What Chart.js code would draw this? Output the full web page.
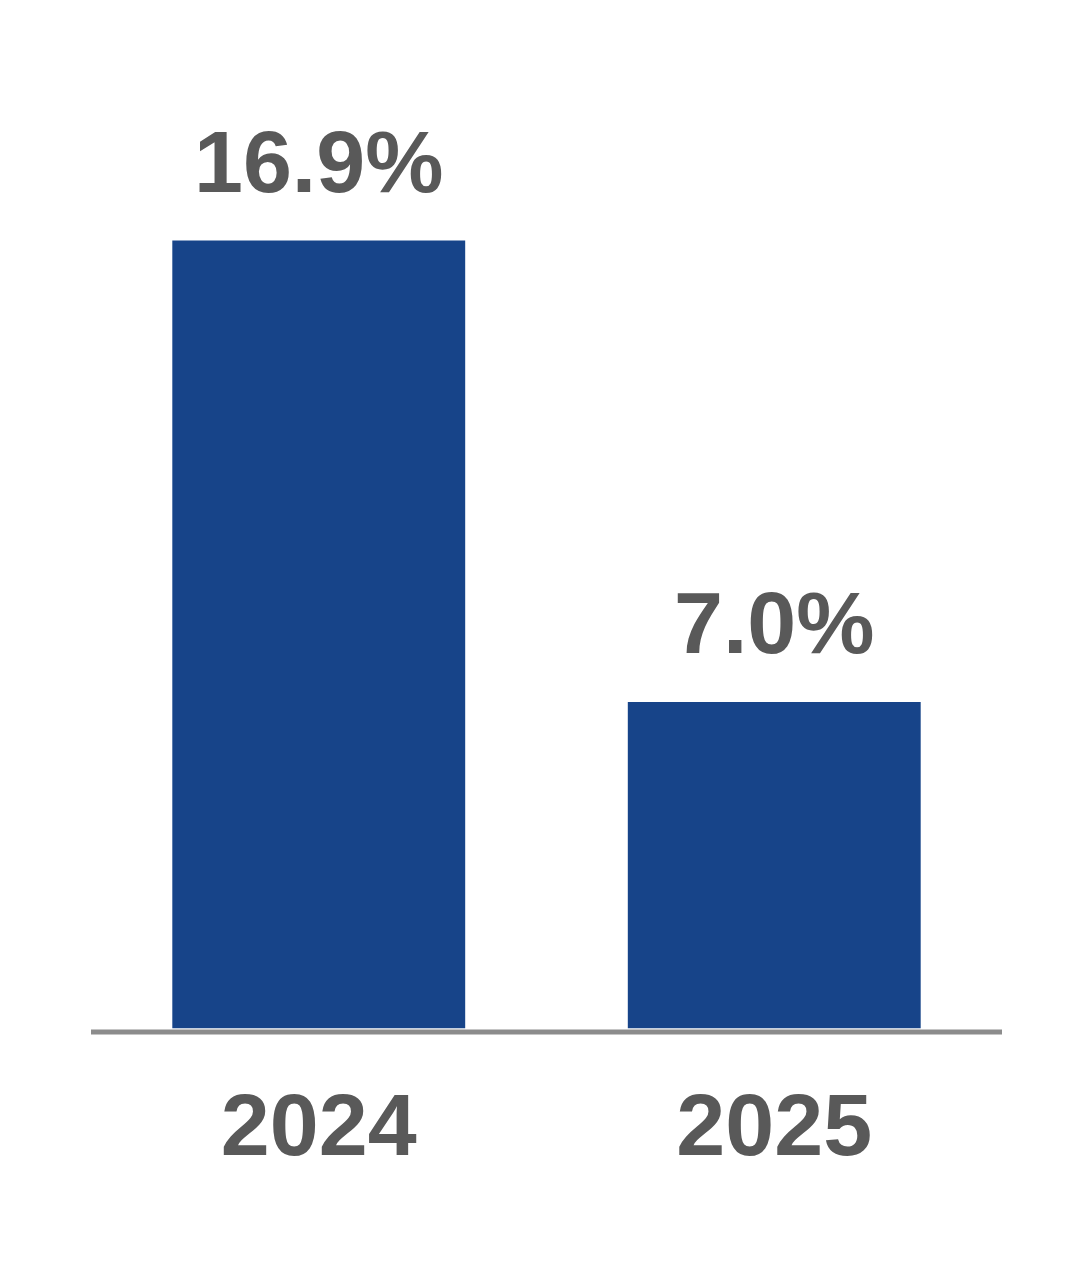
<!DOCTYPE html>
<html>
<head>
<meta charset="utf-8">
<script src="https://cdn.jsdelivr.net/npm/chart.js@4.4.1/dist/chart.umd.min.js"></script>
<style>
  html, body { margin: 0; padding: 0; background: #ffffff; }
  #wrap { width: 1092px; height: 1266px; }
</style>
</head>
<body>
<div id="wrap"><canvas id="grafica"></canvas></div>
<script>
// datos
const anios = ['2024', '2025'];
const valores = [16.9, 7.0];
const etiquetas = ['16.9%', '7.0%'];

const GRIS = '#595959';
const AZUL = '#174489';

// etiquetas encima de las barras y linea base
const extras = {
  id: 'extras',
  afterDatasetsDraw(chart) {
    const ctx = chart.ctx;
    const area = chart.chartArea;
    ctx.save();
    ctx.strokeStyle = '#8c8c8c';
    ctx.lineWidth = 5;
    ctx.beginPath();
    ctx.moveTo(area.left, area.bottom + 3.5);
    ctx.lineTo(area.right, area.bottom + 3.5);
    ctx.stroke();

    ctx.fillStyle = GRIS;
    ctx.font = 'bold 88px "Liberation Sans", Arial, sans-serif';
    ctx.textAlign = 'center';
    ctx.textBaseline = 'alphabetic';
    chart.getDatasetMeta(0).data.forEach((bar, i) => {
      ctx.fillText(etiquetas[i], bar.x, bar.y - 49);
    });
    ctx.restore();
  }
};

new Chart(document.getElementById('grafica'), {
  type: 'bar',
  data: {
    labels: anios,
    datasets: [{
      data: valores,
      backgroundColor: AZUL,
      borderWidth: 0,
      categoryPercentage: 1,
      barPercentage: 0.643
    }]
  },
  options: {
    responsive: true,
    maintainAspectRatio: false,
    animation: false,
    layout: { padding: { left: 91, right: 90, top: 96, bottom: 32 } },
    plugins: { legend: { display: false }, tooltip: { enabled: false } },
    scales: {
      y: { display: false, min: 0, max: 20 },
      x: {
        grid: { display: false, drawTicks: false },
        border: { display: false },
        ticks: {
          color: GRIS,
          padding: 50,
          font: { family: '"Liberation Sans", Arial, sans-serif', size: 88, weight: 'bold' }
        }
      }
    }
  },
  plugins: [extras]
});
</script>
</body>
</html>
